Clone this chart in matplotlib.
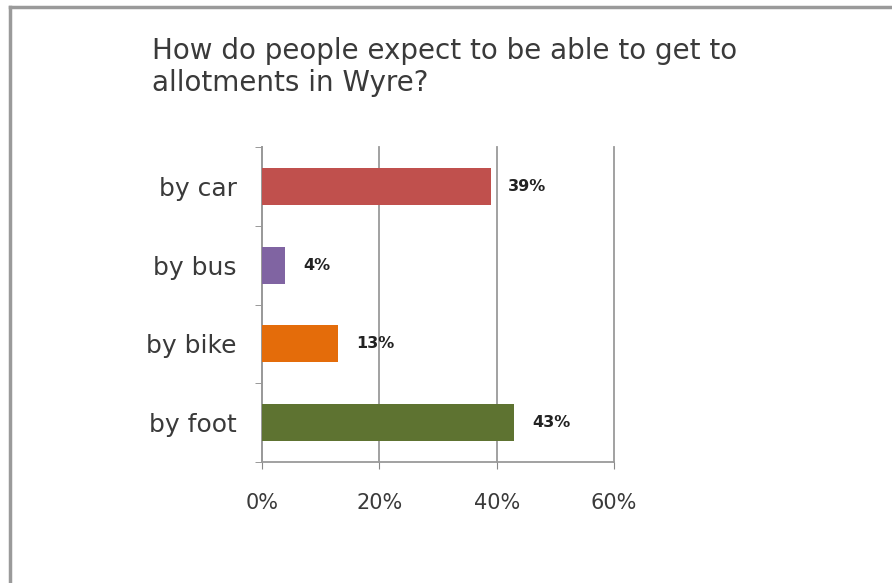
import numpy as np
import matplotlib
matplotlib.use("Agg")
import matplotlib.pyplot as plt
from matplotlib.lines import Line2D

# data
categories = ["by car", "by bus", "by bike", "by foot"]
values = [39, 4, 13, 43]
bar_colors = ["#C0504D", "#8064A2", "#E46C0A", "#5E7331"]
xticks = [0, 20, 40, 60]
xtick_labels = ["0%", "20%", "40%", "60%"]
title = "How do people expect to be able to get to\nallotments in Wyre?"

plt.rcParams['font.family'] = ['DejaVu Sans']

fig = plt.figure(figsize=(8.92, 5.83), dpi=100)
ax = fig.add_axes([0.2937, 0.2075, 0.3946, 0.5404])

ypos = np.arange(len(categories))
ax.barh(ypos, values, height=0.47, color=bar_colors, zorder=3)
ax.set_ylim(len(categories) - 0.5, -0.5)
ax.set_xlim(0, 60)

for y, v in zip(ypos, values):
    ax.text(v + 3.0, y, f"{v}%", va='center', ha='left', fontsize=11.5,
            fontweight='bold', color='#222222', zorder=4)

ax.set_xticks(xticks)
ax.set_xticklabels(xtick_labels, fontsize=15, color='#3A3A3A')
ax.set_yticks(ypos)
ax.set_yticklabels(categories, fontsize=18, color='#3A3A3A')
ax.tick_params(axis='y', length=0, pad=18)
ax.tick_params(axis='x', length=5, color='#888888', pad=17)

# category boundary ticks on the y axis
ax.set_yticks(np.arange(-0.5, len(categories), 1), minor=True)
ax.tick_params(axis='y', which='minor', length=5, color='#888888')

ax.grid(axis='x', color='#9A9A9A', linewidth=1.3, zorder=0)
for gl in ax.get_xgridlines():
    gl.set_clip_on(False)
for s in ['top', 'right']:
    ax.spines[s].set_visible(False)
for s in ['left', 'bottom']:
    ax.spines[s].set_color('#9A9A9A')
    ax.spines[s].set_linewidth(1.3)

fig.text(152 / 892, 1 - 37 / 583, title, ha='left', va='top', fontsize=20,
         color='#3A3A3A', linespacing=1.16)

# outer frame (left and top edges visible)
fig.add_artist(Line2D([9.5 / 892, 9.5 / 892], [0, 1 - 7 / 583],
                      transform=fig.transFigure, color='#9A9A9A', lw=2.5))
fig.add_artist(Line2D([9.5 / 892, 1], [1 - 7 / 583, 1 - 7 / 583],
                      transform=fig.transFigure, color='#9A9A9A', lw=2.5))

fig.savefig("out.png", dpi=100)
